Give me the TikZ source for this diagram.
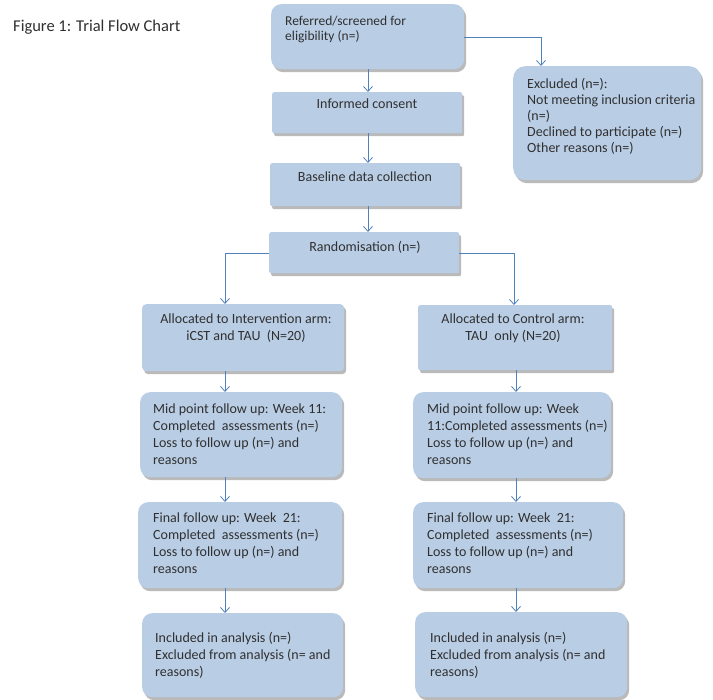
\documentclass[tikz,border=0pt]{standalone}
\usepackage{fontspec}
\setmainfont{Carlito}
\usetikzlibrary{arrows.meta,shadows}
\definecolor{boxfill}{HTML}{B9CDE5}
\definecolor{arrowc}{HTML}{4F81BD}
\definecolor{txtc}{HTML}{303030}
\tikzset{
  box/.style={fill=boxfill, draw=none, inner sep=0pt, anchor=north west,
    drop shadow={shadow xshift=2pt, shadow yshift=-3pt, opacity=0.45, fill=black!60}},
  rbox/.style={box, rounded corners=10pt},
  sbox/.style={box, rounded corners=2pt},
  txt/.style={inner sep=0pt, text=txtc, font=\fontsize{14}{17}\selectfont},
  ltxt/.style={txt, align=left, anchor=north west},
  ctxt/.style={txt, align=center, anchor=north},
  arr/.style={draw=arrowc, line width=0.8pt, -{Straight Barb[length=5pt,width=9pt]}},
}
\begin{document}
\begin{tikzpicture}[x=1pt,y=-1pt]
\path[use as bounding box, fill=white] (0,0) rectangle (713,700);

\node[ltxt, anchor=north west, font=\fontsize{16.5}{19}\selectfont] (title) at (13,20) {Figure 1: Trial Flow Chart};

% boxes
\node[rbox, minimum width=193pt, minimum height=65pt] (b1) at (271,4) {};
\node[sbox, minimum width=190pt, minimum height=41pt] (inf) at (272,92) {};
\node[sbox, minimum width=190pt, minimum height=43pt] (base) at (270,163) {};
\node[sbox, minimum width=190pt, minimum height=41pt] (rand) at (269,232) {};
\node[box, rounded corners=12pt, minimum width=188pt, minimum height=114pt] (excl) at (513,66) {};
\node[box, rounded corners=4pt, minimum width=202pt, minimum height=67pt] (allocL) at (142,304) {};
\node[sbox, minimum width=194pt, minimum height=65pt] (allocR) at (418,305) {};
\node[rbox, minimum width=202pt, minimum height=85pt] (midL) at (140,392) {};
\node[rbox, minimum width=198pt, minimum height=86pt] (midR) at (413,392) {};
\node[rbox, minimum width=204pt, minimum height=86pt] (finL) at (138,502) {};
\node[rbox, minimum width=210pt, minimum height=86pt] (finR) at (413,502) {};
\node[rbox, minimum width=201pt, minimum height=84pt] (incL) at (142,613) {};
\node[rbox, minimum width=212pt, minimum height=85pt] (incR) at (415,612) {};

% texts
\node[ltxt, font=\fontsize{13.5}{15}\selectfont] (tb1) at (285,16) {Referred/screened for\\eligibility (n=)};
\node[ctxt] (tinf) at (367,99) {Informed consent};
\node[ctxt] (tbase) at (365,172) {Baseline data collection};
\node[ctxt] (trand) at (365,241) {Randomisation (n=)};
\node[ltxt, font=\fontsize{14}{16}\selectfont] (texcl) at (527,78) {Excluded (n=):\\Not meeting inclusion criteria\\(n=)\\Declined to participate (n=)\\Other reasons (n=)};
\node[ctxt] (tallocL) at (246,314) {Allocated to Intervention arm:\\iCST and TAU\ \ (N=20)};
\node[ctxt] (tallocR) at (513,314) {Allocated to Control arm:\\TAU\ \ only (N=20)};
\node[ltxt] (tmidL) at (153,404) {Mid point follow up: Week 11:\\Completed\ \ assessments (n=)\\Loss to follow up (n=) and\\reasons};
\node[ltxt] (tmidR) at (427,404) {Mid point follow up: Week\\11:Completed assessments (n=)\\Loss to follow up (n=) and\\reasons};
\node[ltxt] (tfinL) at (153,513) {Final follow up: Week\ \ 21:\\Completed\ \ assessments (n=)\\Loss to follow up (n=) and\\reasons};
\node[ltxt] (tfinR) at (427,513) {Final follow up: Week\ \ 21:\\Completed\ \ assessments (n=)\\Loss to follow up (n=) and\\reasons};
\node[ltxt] (tincL) at (155,632) {Included in analysis (n=)\\Excluded from analysis (n= and\\reasons)};
\node[ltxt] (tincR) at (430,632) {Included in analysis (n=)\\Excluded from analysis (n= and\\reasons)};

% arrow guide coordinates
\coordinate (xc) at (368,0);
\coordinate (xex) at (541,37);
\coordinate (xL) at (225,253);
\coordinate (xR) at (514,253);
\coordinate (xR2) at (516,0);

% connectors
\draw[arr] (b1.south -| xc) -- (inf.north -| xc);
\draw[arr] (b1.east |- xex) -- (xex) -- (excl.north -| xex);
\draw[arr] (inf.south -| xc) -- (base.north -| xc);
\draw[arr] (base.south -| xc) -- (rand.north -| xc);
\draw[arr] (rand.west |- xL) -- (xL) -- (allocL.north -| xL);
\draw[arr] (rand.east |- xR) -- (xR) -- (allocR.north -| xR);
\draw[arr] (allocL.south -| xL) -- (midL.north -| xL);
\draw[arr] (midL.south -| xL) -- (finL.north -| xL);
\draw[arr] (finL.south -| xL) -- (incL.north -| xL);
\draw[arr] (allocR.south -| xR2) -- (midR.north -| xR2);
\draw[arr] (midR.south -| xR2) -- (finR.north -| xR2);
\draw[arr] (finR.south -| xR2) -- (incR.north -| xR2);
\end{tikzpicture}
\end{document}
